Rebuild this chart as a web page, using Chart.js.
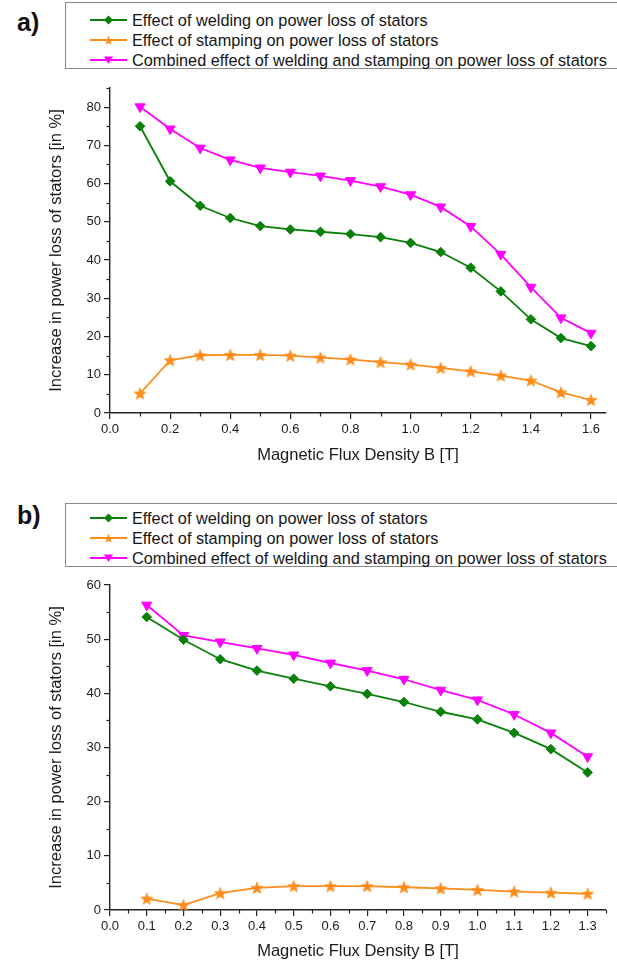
<!DOCTYPE html>
<html>
<head>
<meta charset="utf-8">
<script src="https://cdn.jsdelivr.net/npm/chart.js@4/dist/chart.umd.min.js"></script>
<style>
  html, body { margin: 0; padding: 0; background: #fff; }
  body { width: 617px; height: 963px; position: relative; overflow: hidden;
         font-family: Arial, "Liberation Sans", sans-serif; }
  .panel-tag { position: absolute; left: 17px; font-weight: bold; font-size: 25px;
               line-height: 25px; color: #111; }
  .legend { position: absolute; left: 65px; width: 560px; border: 1px solid #8a8a8a;
            background: #fff; box-sizing: border-box; }
  .legend .row { display: flex; align-items: center; height: 20px; }
  .legend svg { margin-left: 24px; margin-right: 5px; flex: none; }
  .legend span { font-size: 16.3px; color: #151515; white-space: nowrap; }
  .chart-box { position: absolute; left: 0; width: 617px; }
  .chart-box canvas { display: block; }
</style>
</head>
<body>

<div class="panel-tag" style="top:10px;">a)</div>
<div class="legend" id="legendA" style="top:2px;height:67px;padding-top:7px;"></div>
<div class="chart-box" style="top:75px;height:395px;"><canvas id="chartA" width="617" height="395"></canvas></div>

<div class="panel-tag" style="top:503px;">b)</div>
<div class="legend" id="legendB" style="top:503px;height:64px;padding-top:4px;"></div>
<div class="chart-box" style="top:570px;height:393px;"><canvas id="chartB" width="617" height="393"></canvas></div>

<script>
// ---- Panel a) data ----
const fluxA = [0.1, 0.2, 0.3, 0.4, 0.5, 0.6, 0.7, 0.8, 0.9, 1.0, 1.1, 1.2, 1.3, 1.4, 1.5, 1.6];
const weldingA = [75.0, 60.6, 54.2, 51.0, 48.9, 48.0, 47.4, 46.8, 46.0, 44.5, 42.1, 38.0, 31.8, 24.5, 19.6, 17.5];
const stampingA = [5.1, 13.8, 15.1, 15.2, 15.2, 15.0, 14.5, 14.0, 13.3, 12.7, 11.8, 10.9, 9.8, 8.5, 5.4, 3.4];
const combinedA = [80.1, 74.3, 69.3, 66.2, 64.1, 63.0, 62.0, 60.8, 59.2, 57.1, 53.9, 48.8, 41.5, 32.9, 24.9, 20.9];
const xTicksA = [0.0, 0.2, 0.4, 0.6, 0.8, 1.0, 1.2, 1.4, 1.6];
const xTickLabelsA = ["0.0", "0.2", "0.4", "0.6", "0.8", "1.0", "1.2", "1.4", "1.6"];
const yTicksA = [0, 10, 20, 30, 40, 50, 60, 70, 80];
const yTickLabelsA = ["0", "10", "20", "30", "40", "50", "60", "70", "80"];

// ---- Panel b) data ----
const fluxB = [0.1, 0.2, 0.3, 0.4, 0.5, 0.6, 0.7, 0.8, 0.9, 1.0, 1.1, 1.2, 1.3];
const weldingB = [54.1, 49.9, 46.3, 44.2, 42.7, 41.3, 39.9, 38.4, 36.6, 35.2, 32.7, 29.7, 25.4];
const stampingB = [2.1, 0.9, 3.1, 4.1, 4.4, 4.4, 4.4, 4.2, 4.0, 3.7, 3.4, 3.2, 3.0];
const combinedB = [56.3, 50.7, 49.5, 48.3, 47.1, 45.6, 44.2, 42.6, 40.6, 38.8, 36.1, 32.7, 28.3];
const xTicksB = [0.0, 0.1, 0.2, 0.3, 0.4, 0.5, 0.6, 0.7, 0.8, 0.9, 1.0, 1.1, 1.2, 1.3];
const xTickLabelsB = ["0.0", "0.1", "0.2", "0.3", "0.4", "0.5", "0.6", "0.7", "0.8", "0.9", "1.0", "1.1", "1.2", "1.3"];
const yTicksB = [0, 10, 20, 30, 40, 50, 60];
const yTickLabelsB = ["0", "10", "20", "30", "40", "50", "60"];

const seriesNames = [
  "Effect of welding on power loss of stators",
  "Effect of stamping on power loss of stators",
  "Combined effect of welding and stamping on power loss of stators"
];
const xTitle = "Magnetic Flux Density B [T]";
const yTitle = "Increase in power loss of stators [in %]";

// ---- styling ----
const FONT = 'Arial, "Liberation Sans", sans-serif';
const AXIS = "#222";
const TEXT = "#1a1a1a";
const GREEN = "#0a800a";
const ORANGE = "#ff8c1a";
const MAGENTA = "#ff00ff";

// filled five-point star used as the point marker of the stamping series
function starMarker(color) {
  const c = document.createElement("canvas");
  c.width = 14; c.height = 14;
  const g = c.getContext("2d");
  g.fillStyle = color; g.strokeStyle = color; g.lineWidth = 0.8; g.lineJoin = "round";
  g.beginPath();
  for (let i = 0; i < 10; i++) {
    const r = i % 2 ? 2.6 : 6.2;
    const a = -Math.PI / 2 + i * Math.PI / 5;
    g.lineTo(7 + r * Math.cos(a), 7.6 + r * Math.sin(a));
  }
  g.closePath(); g.fill(); g.stroke();
  return c;
}
const STAR = starMarker(ORANGE);

// minor tick marks halfway between the major ticks, drawn outward from each axis
const minorTicks = {
  id: "minorTicks",
  afterDraw(chart) {
    const ctx = chart.ctx;
    ctx.save();
    ctx.strokeStyle = AXIS;
    ctx.lineWidth = 1.2;
    ["x", "y"].forEach(id => {
      const s = chart.scales[id];
      const vals = s.ticks.map(t => t.value);
      const minors = [];
      for (let i = 0; i < vals.length - 1; i++) minors.push((vals[i] + vals[i + 1]) / 2);
      const step = vals[1] - vals[0];
      const extra = vals[vals.length - 1] + step / 2;
      if (extra <= s.max + 1e-9) minors.push(extra);
      minors.forEach(v => {
        const p = Math.round(s.getPixelForValue(v)) + 0.5;
        ctx.beginPath();
        if (id === "x") { ctx.moveTo(p, s.top); ctx.lineTo(p, s.top + 3.5); }
        else { ctx.moveTo(s.right, p); ctx.lineTo(s.right - 3.5, p); }
        ctx.stroke();
      });
    });
    ctx.restore();
  }
};

function pairs(xs, ys) { return xs.map((x, i) => ({ x: x, y: ys[i] })); }

function makeChart(canvasId, cfg) {
  const datasets = [
    { label: seriesNames[0], data: pairs(cfg.flux, cfg.welding), borderColor: GREEN, backgroundColor: GREEN,
      pointStyle: "rectRot", pointRadius: 4.8, pointBorderWidth: 1 },
    { label: seriesNames[1], data: pairs(cfg.flux, cfg.stamping), borderColor: ORANGE, backgroundColor: ORANGE,
      pointStyle: STAR, pointRadius: 6 },
    { label: seriesNames[2], data: pairs(cfg.flux, cfg.combined), borderColor: MAGENTA, backgroundColor: MAGENTA,
      pointStyle: "triangle", pointRotation: 180, pointRadius: 5.8, pointBorderWidth: 1 }
  ].map(d => Object.assign({ borderWidth: 1.8, tension: 0, fill: false, pointHoverRadius: 6 }, d));

  return new Chart(document.getElementById(canvasId), {
    type: "line",
    data: { datasets },
    options: {
      responsive: false,
      animation: false,
      devicePixelRatio: 1,
      layout: { padding: { top: cfg.padTop, right: cfg.padRight, left: 0, bottom: 0 } },
      plugins: { legend: { display: false }, tooltip: { enabled: false } },
      scales: {
        x: {
          type: "linear", min: 0, max: cfg.xMax,
          afterBuildTicks: s => { s.ticks = cfg.xTicks.map(v => ({ value: v })); },
          afterFit: s => { s.height = cfg.xAxisHeight; },
          ticks: { callback: (v, i) => cfg.xTickLabels[i], autoSkip: false, maxRotation: 0,
                   padding: 3, color: TEXT, font: { family: FONT, size: 13 } },
          grid: { display: true, drawOnChartArea: false, drawTicks: true, tickLength: 6,
                  color: AXIS, lineWidth: 1.2 },
          border: { display: true, color: AXIS, width: 1.4 },
          title: { display: true, text: xTitle, color: TEXT, font: { family: FONT, size: 16.5 },
                   padding: { top: 0, bottom: cfg.xTitlePad } }
        },
        y: {
          type: "linear", min: 0, max: cfg.yMax,
          afterBuildTicks: s => { s.ticks = cfg.yTicks.map(v => ({ value: v })); },
          afterFit: s => { s.width = 110; },
          ticks: { callback: (v, i) => cfg.yTickLabels[i], autoSkip: false,
                   padding: 3, color: TEXT, font: { family: FONT, size: 13 } },
          grid: { display: true, drawOnChartArea: false, drawTicks: true, tickLength: 6,
                  color: AXIS, lineWidth: 1.2 },
          border: { display: true, color: AXIS, width: 1.4 },
          title: { display: true, text: yTitle, color: TEXT, font: { family: FONT, size: 16.5 },
                   padding: { top: 47, bottom: 0 } }
        }
      }
    },
    plugins: [minorTicks]
  });
}

// legend rows: a short line with the series marker, followed by the series name
function legendSample(color, kind) {
  let marker;
  if (kind === "diamond") marker = `<polygon points="18.5,1.5 23,6 18.5,10.5 14,6" fill="${color}"/>`;
  else if (kind === "tri") marker = `<polygon points="14,2.5 23,2.5 18.5,10" fill="${color}"/>`;
  else {
    let pts = [];
    for (let i = 0; i < 10; i++) {
      const r = i % 2 ? 2.1 : 5;
      const a = -Math.PI / 2 + i * Math.PI / 5;
      pts.push((18.5 + r * Math.cos(a)).toFixed(2) + "," + (6.6 + r * Math.sin(a)).toFixed(2));
    }
    marker = `<polygon points="${pts.join(" ")}" fill="${color}"/>`;
  }
  return `<svg width="37" height="12" viewBox="0 0 37 12"><line x1="0" y1="6" x2="37" y2="6" stroke="${color}" stroke-width="1.8"/>${marker}</svg>`;
}
function buildLegend(id) {
  const kinds = [[GREEN, "diamond"], [ORANGE, "star"], [MAGENTA, "tri"]];
  document.getElementById(id).innerHTML = seriesNames.map((n, i) =>
    `<div class="row">${legendSample(kinds[i][0], kinds[i][1])}<span>${n}</span></div>`).join("");
}
buildLegend("legendA");
buildLegend("legendB");

makeChart("chartA", {
  flux: fluxA, welding: weldingA, stamping: stampingA, combined: combinedA,
  xTicks: xTicksA, xTickLabels: xTickLabelsA, yTicks: yTicksA, yTickLabels: yTickLabelsA,
  xMax: 1.65, yMax: 85, padTop: 13, padRight: 11, xAxisHeight: 57, xTitlePad: 5
});
makeChart("chartB", {
  flux: fluxB, welding: weldingB, stamping: stampingB, combined: combinedB,
  xTicks: xTicksB, xTickLabels: xTickLabelsB, yTicks: yTicksB, yTickLabels: yTickLabelsB,
  xMax: 1.35, yMax: 60, padTop: 15, padRight: 11, xAxisHeight: 53, xTitlePad: 1.5
});
</script>
</body>
</html>
